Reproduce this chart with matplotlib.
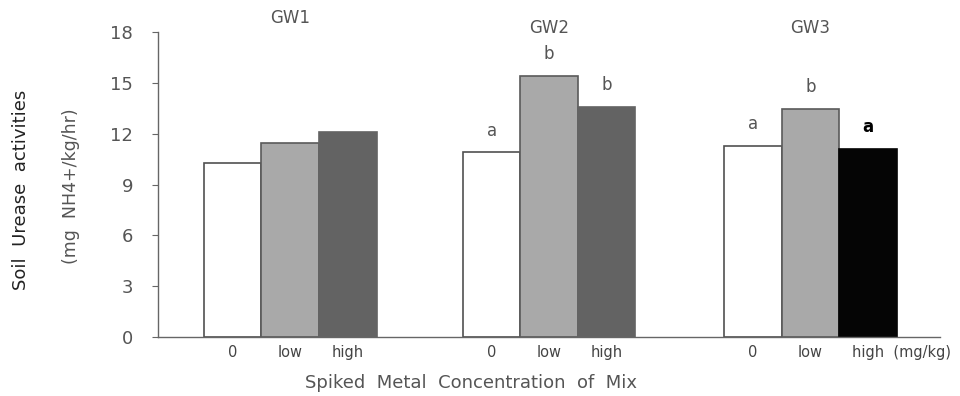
import matplotlib
matplotlib.use("Agg")
import matplotlib.pyplot as plt
import numpy as np

groups = ["GW1", "GW2", "GW3"]
levels = ["0", "low", "high"]
values = {
    "GW1": [10.3, 11.45, 12.1],
    "GW2": [10.9, 15.4, 13.6],
    "GW3": [11.3, 13.45, 11.1],
}
letters = {
    "GW1": ["", "", ""],
    "GW2": ["a", "b", "b"],
    "GW3": ["a", "b", "a"],
}
yticks = [0, 3, 6, 9, 12, 15, 18]

# layout (positions / styles)
group_starts = [0.8, 5.3, 9.84]
bar_w = 1.0
face = {"GW1": ["white", "#a9a9a9", "#636363"],
        "GW2": ["white", "#a9a9a9", "#636363"],
        "GW3": ["white", "#a9a9a9", "#050505"]}
edge = {"GW1": ["#505050", "#5a5a5a", "#636363"],
        "GW2": ["#505050", "#5a5a5a", "#636363"],
        "GW3": ["#505050", "#5a5a5a", "#050505"]}
txt = "#555555"

fig = plt.figure(figsize=(9.6, 3.96), dpi=100)
ax = fig.add_axes([0.1645, 0.149, 0.815, 0.770])

tick_pos, tick_lab = [], []
for gi, g in enumerate(groups):
    xs = group_starts[gi] + bar_w * (np.arange(3) + 0.5)
    for k in range(3):
        ax.bar(xs[k], values[g][k], width=bar_w, color=face[g][k],
               edgecolor=edge[g][k], linewidth=1.2, zorder=2)
        if letters[g][k]:
            bold = (g == "GW3" and k == 2)
            ax.text(xs[k], values[g][k] + 0.75, letters[g][k], ha="center",
                    va="bottom", fontsize=12,
                    color="black" if bold else txt,
                    fontweight="bold" if bold else "normal")
    ax.text(xs[1], 18.3 if g == "GW1" else 17.7, g, ha="center", va="bottom",
            fontsize=12, color=txt)
    tick_pos.extend(list(xs))
    tick_lab.extend(levels)

# last label carries the unit and sits right of its bar, as in the original
tick_lab[-1] = "high  (mg/kg)"
tick_pos[-1] = tick_pos[-1] + 0.58
ax.set_xlim(0, 13.6)
ax.set_ylim(0, 18)
ax.set_yticks(yticks)
ax.set_yticklabels([str(v) for v in yticks], fontsize=13, color=txt)
ax.set_xticks(tick_pos)
ax.set_xticklabels(tick_lab, fontsize=10.5, color="#444444")
ax.tick_params(axis="x", length=0, pad=6)
ax.tick_params(axis="y", length=4, width=0.8, color="#666666", direction="out", pad=14)
for s in ["top", "right"]:
    ax.spines[s].set_visible(False)
for s in ["left", "bottom"]:
    ax.spines[s].set_color("#666666")
    ax.spines[s].set_linewidth(1.0)

ax.set_xlabel("Spiked  Metal  Concentration  of  Mix", fontsize=13, color=txt)
ax.xaxis.set_label_coords(0.4, -0.12)
fig.text(0.022, 0.52, "Soil  Urease  activities", rotation=90, ha="center",
         va="center", fontsize=13, color="#222222")
fig.text(0.074, 0.53, "(mg  NH4+/kg/hr)", rotation=90, ha="center",
         va="center", fontsize=12.5, color=txt)

fig.savefig("out.png", dpi=100)
